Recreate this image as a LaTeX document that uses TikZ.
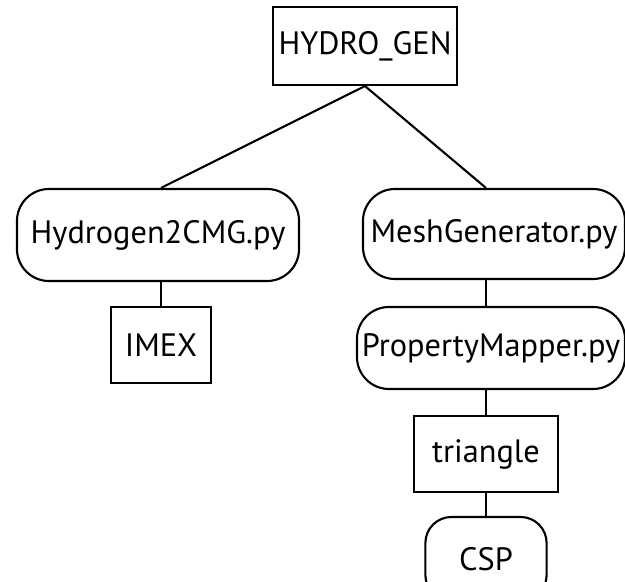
\documentclass[tikz,border=0pt]{standalone}
\usepackage{fontspec}
\setmainfont{PT Sans}
\usepackage{tikz}

\tikzset{
	box/.style={draw, line width=1.5pt, inner sep=0pt, font=\fontsize{23}{27}\selectfont},
	rbox/.style={box, rounded corners=0.8cm},
	link/.style={line width=1.5pt}
}

\begin{document}
\begin{tikzpicture}[x=0.025cm, y=-0.025cm]
	\useasboundingbox (0,0) rectangle (625,582);
	\node[box, minimum width=4.6cm, minimum height=1.95cm] (hg) at (365,46) {HYDRO\_GEN};
	\node[rbox, minimum width=7.05cm, minimum height=2.3cm] (h2c) at (158,235) {Hydrogen2CMG.py};
	\node[rbox, minimum width=6.55cm, minimum height=2.25cm] (mesh) at (494,234) {MeshGenerator.py};
	\node[box, minimum width=2.48cm, minimum height=1.88cm] (imex) at (161,345) {IMEX};
	\node[rbox, minimum width=6.7cm, minimum height=2.05cm] (pm) at (491,348) {PropertyMapper.py};
	\node[box, minimum width=3.58cm, minimum height=1.88cm] (tri) at (486,454) {triangle};
	\node[rbox, minimum width=3.03cm, minimum height=2.1cm, rounded corners=0.65cm] (csp) at (486,559) {CSP};
	\draw[link] (hg.south) -- (h2c.north -| imex.north);
	\draw[link] (hg.south) -- (mesh.north -| tri.north);
	\draw[link] (h2c.south -| imex.north) -- (imex.north);
	\draw[link] (mesh.south -| tri.north) -- (pm.north -| tri.north);
	\draw[link] (pm.south -| tri.north) -- (tri.north);
	\draw[link] (tri.south) -- (csp.north);
\end{tikzpicture}
\end{document}
